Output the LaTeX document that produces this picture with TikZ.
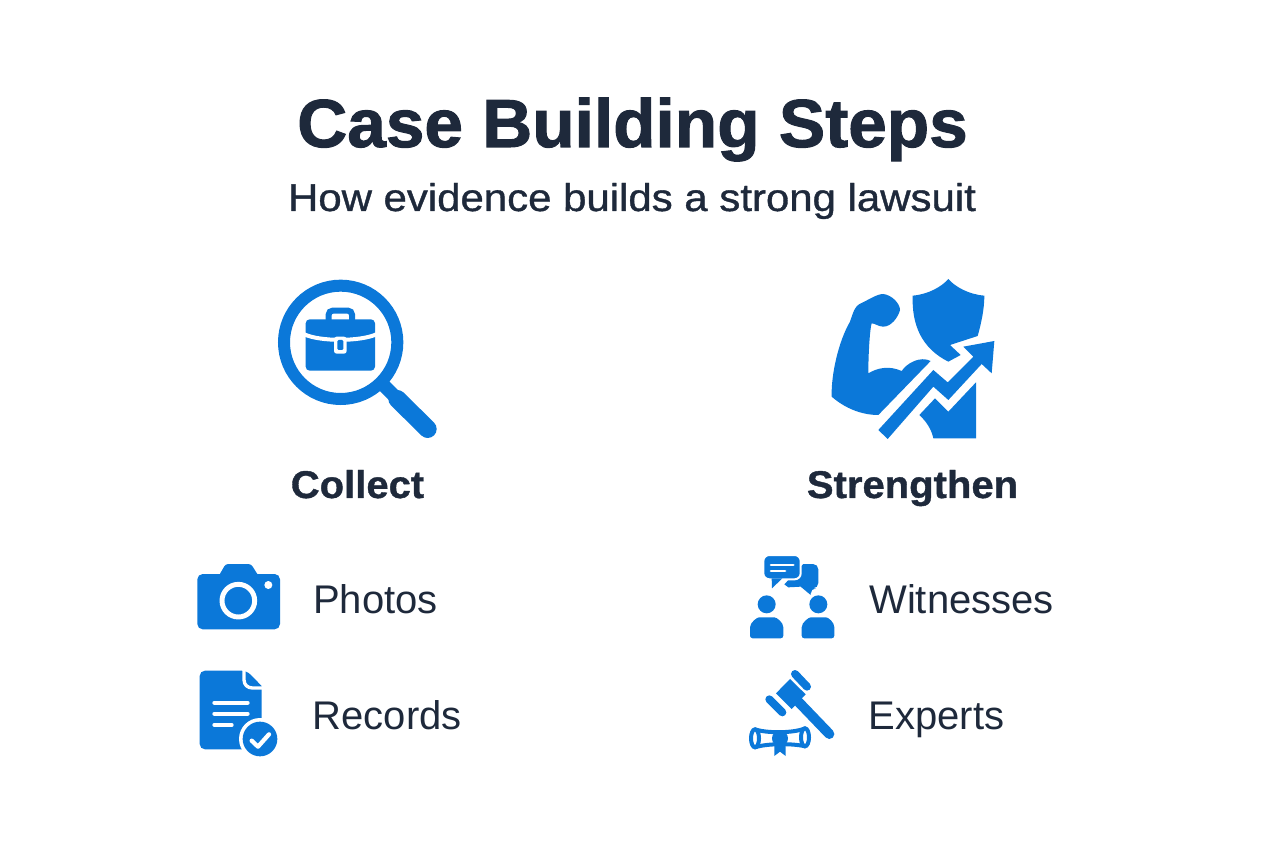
\documentclass[tikz,border=0pt]{standalone}
\usepackage{fontspec}
\setmainfont{Liberation Sans}
\newfontfamily\headfont[FakeStretch=1.02,FakeBold=1.5]{Liberation Sans}
\newfontfamily\subfont[FakeStretch=1.085,FakeBold=1]{Liberation Sans}
\newfontfamily\stepfont[FakeStretch=1.035,FakeBold=1]{Liberation Sans}
\definecolor{inkdark}{HTML}{1E293B}
\definecolor{iconblue}{HTML}{0B78D9}
\tikzset{
  icon/.style={shift={#1},x=0.25pt,y=-0.25pt},
  solid blue/.style={fill=iconblue,draw=none},
  solid white/.style={fill=white,draw=none},
  white stroke/.style={draw=white,line cap=round,line join=round},
  blue stroke/.style={draw=iconblue},
  headtext/.style={text=inkdark,inner sep=0pt,font=\headfont\fontsize{51pt}{60pt}\bfseries,anchor=base},
  subtext/.style={text=inkdark,inner sep=0pt,font=\subfont\fontsize{29pt}{36pt}\selectfont,anchor=base},
  steptext/.style={text=inkdark,inner sep=0pt,font=\stepfont\fontsize{29pt}{34pt}\bfseries,anchor=base},
  itemtext/.style={text=inkdark,inner sep=0pt,font=\fontsize{30pt}{36pt}\selectfont,anchor=base west}
}
\begin{document}
\begin{tikzpicture}[x=0.75pt,y=-0.75pt]
  \useasboundingbox (0,0) rectangle (1264,848);
  \node[headtext] (title) at (632.5,147) {Case Building Steps};
  \node[subtext] (subtitle) at (632,211) {How evidence builds a strong lawsuit};
  \node[steptext] (collect) at (357.5,498) {Collect};
  \node[steptext] (strengthen) at (912.5,498) {Strengthen};
  \node[itemtext] (photos) at (313,613) {Photos};
  \node[itemtext] (records) at (312.5,729) {Records};
  \node[itemtext] (witnesses) at (869,613) {Witnesses};
  \node[itemtext] (experts) at (868.5,729) {Experts};

  \begin{scope}[icon={(260,265)}]
    \draw[blue stroke,line width=9pt] (242,232) circle (170);
    \draw[blue stroke,line width=10pt] (372,362) -- (415,405);
    \draw[blue stroke,line width=13.5pt,line cap=round] (412,402) -- (503,492);
    \draw[blue stroke,line width=4.5pt,rounded corners=3pt] (206,170) -- (206,137) -- (276,137) -- (276,170);
    \fill[solid blue,rounded corners=3pt] (137,163) rectangle (345,317);
    \draw[white stroke,line width=3pt] (133,208) .. controls (180,230) and (300,230) .. (349,208);
    \fill[solid white,rounded corners=2pt] (222,215) rectangle (260,266);
    \fill[solid blue,rounded corners=1pt] (232,225) rectangle (250,255);
  \end{scope}

  \begin{scope}[icon={(815,265)}]
    \fill[solid blue] (205,87) .. controls (230,90) and (255,115) .. (255,135)
      .. controls (250,155) and (230,185) .. (205,185) .. controls (190,185) and (180,175) .. (170,175)
      .. controls (165,190) and (160,260) .. (160,325) .. controls (185,310) and (220,300) .. (260,318)
      .. controls (275,295) and (315,272) .. (347,288) -- (190,450)
      .. controls (140,450) and (90,430) .. (50,395) .. controls (48,330) and (70,230) .. (105,170)
      .. controls (115,140) and (120,125) .. (132,118) .. controls (160,105) and (185,87) .. (205,87) -- cycle;
    \fill[solid blue] (400,42) .. controls (380,65) and (340,88) .. (293,92)
      .. controls (290,180) and (320,250) .. (400,290) -- (437,270) -- (405,240) -- (488,213)
      .. controls (500,170) and (508,130) .. (508,92) .. controls (460,88) and (420,65) .. (400,42) -- cycle;
    \fill[solid blue] (190,495) -- (355,315) -- (398,352) -- (475,275) -- (445,245) -- (538,228)
      -- (530,325) -- (500,297) -- (400,405) -- (355,365) -- (218,522) -- cycle;
    \fill[solid blue] (360,400) -- (400,440) -- (483,352) -- (483,520) -- (355,520)
      .. controls (350,495) and (335,470) .. (313,450) -- cycle;
  \end{scope}

  \begin{scope}[icon={(185,550)}]
    \fill[solid blue,rounded corners=4pt] (37,72) rectangle (285,238);
    \fill[solid blue,rounded corners=2pt] (100,80) -- (122,42) -- (198,42) -- (222,80) -- cycle;
    \draw[draw=white,line width=3.7pt] (160,152) circle (49);
    \fill[solid white] (250,105) circle (12);
    \fill[solid blue,rounded corners=4pt] (44,362) -- (185,362) [sharp corners] -- (230,408) [rounded corners=4pt] -- (230,598) -- (44,598) -- cycle;
    \draw[draw=white,line width=2.5pt] (177,356) -- (177,390) .. controls (177,404) and (188,414) .. (202,414) -- (236,414);
    \draw[white stroke,line width=3pt] (88,458) -- (188,458);
    \draw[white stroke,line width=3pt] (88,491) -- (188,491);
    \draw[white stroke,line width=3pt] (88,525) -- (140,525);
    \fill[solid white] (225,567) circle (63);
    \fill[solid blue] (225,567) circle (52);
    \draw[white stroke,line width=3.2pt] (200,572) -- (219,590) -- (252,553);
  \end{scope}

  \begin{scope}[icon={(740,545)}]
    \fill[solid blue,rounded corners=4pt] (190,57) -- (235,57) -- (235,130) -- (212,130) [sharp corners] -- (212,150) -- (182,125) -- (145,127) -- (133,118) -- cycle;
    \draw[white,line width=1.5pt,fill=iconblue,rounded corners=4.5pt] (70,30) -- (182,30) -- (182,103) -- (70,103) -- cycle;
    \fill[solid blue] (95,100) -- (96,130) -- (127,100) -- cycle;
    \draw[white stroke,line width=2pt] (93,60) -- (160,60);
    \draw[white stroke,line width=2pt] (93,78) -- (135,78);
    \fill[solid blue] (80,178) circle (27);
    \fill[solid blue] (235,178) circle (27);
    \fill[solid blue,rounded corners=2pt] (30,280) -- (30,255) .. controls (30,232) and (52,217) .. (65,217) -- (95,217) .. controls (110,217) and (130,232) .. (130,255) -- (130,280) -- cycle;
    \fill[solid blue,rounded corners=2pt] (185,280) -- (185,255) .. controls (185,232) and (207,217) .. (220,217) -- (250,217) .. controls (265,217) and (283,232) .. (283,255) -- (283,280) -- cycle;
  \end{scope}

  \begin{scope}[icon={(740,660)}]
    \fill[solid blue] (108,100) -- (150,57) -- (197,103) -- (155,147) -- cycle;
    \draw[blue stroke,line width=6pt,line cap=round] (165,42) -- (201,80);
    \draw[blue stroke,line width=6pt,line cap=round] (88,118) -- (127,157);
    \draw[blue stroke,line width=7.5pt,line cap=round] (170,120) -- (268,222);
    \draw[blue stroke,line width=3pt] (45,235) ellipse (12 and 27);
    \draw[blue stroke,line width=3pt] (195,232) ellipse (12 and 27);
    \draw[blue stroke,line width=3pt] (45,208) .. controls (80,220) and (160,220) .. (195,205);
    \draw[blue stroke,line width=3pt] (45,262) .. controls (80,250) and (160,250) .. (195,259);
    \fill[solid blue] (103,245) -- (103,288) -- (120,275) -- (137,288) -- (137,245) -- cycle;
    \fill[solid blue] (120,235) circle (24);
  \end{scope}
\end{tikzpicture}
\end{document}
